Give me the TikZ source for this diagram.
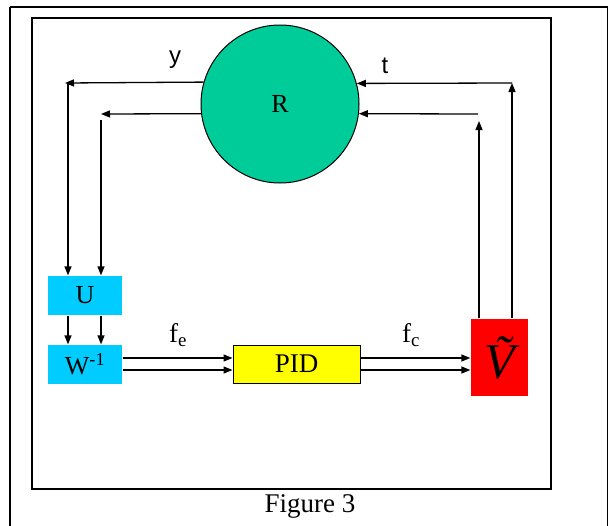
\documentclass[tikz,border=0pt]{standalone}
\usepackage{fontspec}
\setmainfont{Liberation Serif}
\newfontfamily\arialf{Liberation Sans}
\usetikzlibrary{arrows.meta}
\definecolor{teal}{HTML}{00CC99}
\definecolor{cyanb}{HTML}{00CCFF}
\definecolor{yel}{HTML}{FFFF00}
\definecolor{redb}{HTML}{FF0000}
\begin{document}
\begin{tikzpicture}[x=1pt,y=-1pt,
  line width=1.3pt,
  arr/.style={-{Triangle[length=9pt,width=7pt]}},
  blue box/.style={rectangle,fill=cyanb,minimum width=74pt,minimum height=39pt,inner sep=0pt,font=\fontsize{26}{28}\selectfont},
  lbl/.style={inner sep=0pt,font=\fontsize{27}{29}\selectfont}]
\useasboundingbox (0,0) rectangle (609,525);
\draw[line width=1.6pt] (10,7) -- (607.5,7) -- (607.5,530);
\draw[line width=1.6pt] (10,530) -- (10,7);
\draw[line width=1.6pt] (32,18) rectangle (551,489);
\node[lbl,font=\fontsize{27}{29}\selectfont] (cap) at (310,506) {Figure 3};

\node[circle,draw,fill=teal,minimum size=158pt,inner sep=0pt,line width=1pt,font=\fontsize{26}{28}\selectfont] (R) at (280,104) {R};

\node[blue box] (U) at (85,295.5) {U};
\node[blue box] (W) at (85,364.5) {W\textsuperscript{-1}};
\node[rectangle,draw,fill=yel,minimum width=127pt,minimum height=38pt,inner sep=0pt,line width=1pt,font=\fontsize{27}{29}\selectfont] (P) at (296.5,364) {PID};
\node[rectangle,fill=redb,minimum width=57pt,minimum height=77pt,inner sep=0pt,font=\fontsize{50}{52}\selectfont\itshape] (V) at (499.5,357.5) {\~V};

\node[lbl,font=\arialf\fontsize{24}{26}\selectfont] (ly) at (175,60) {y};
\node[lbl,font=\arialf\fontsize{24}{26}\selectfont] (lt) at (385,66) {t};
\node[lbl] (lfe) at (178,335) {f\textsubscript{e}};
\node[lbl] (lfc) at (411,335) {f\textsubscript{c}};

% left side
\coordinate (ya) at (65,83);
\coordinate (yb) at (101,114);
\coordinate (xa) at (68,83);
\coordinate (xb) at (101,120);
\draw[arr] (R.164.6) -- (ya);
\draw[arr] (R.187.3) -- (yb);
\draw[arr] (xa) -- (xa |- U.north);
\draw[arr] (xb) -- (xb |- U.north);
\draw[arr] (xa |- U.south) -- (xa |- W.north);
\draw[arr] (xb |- U.south) -- (xb |- W.north);

% right side
\coordinate (ta) at (512,83);
\coordinate (tb) at (478,114);
\coordinate (ua) at (479,121);
\draw[arr] (ta) -- (R.15.4);
\draw[arr] (tb) -- (R.-7.3);
\draw[arr] (ta |- V.north) -- (ta);
\draw[arr] (ua |- V.north) -- (ua);

% bottom flows
\coordinate (ha) at (0,358);
\coordinate (hb) at (0,370);
\draw[arr] (W.east |- ha) -- (P.west |- ha);
\draw[arr] (W.east |- hb) -- (P.west |- hb);
\draw[arr] (P.east |- ha) -- (V.west |- ha);
\draw[arr] (P.east |- hb) -- (V.west |- hb);
\end{tikzpicture}
\end{document}
